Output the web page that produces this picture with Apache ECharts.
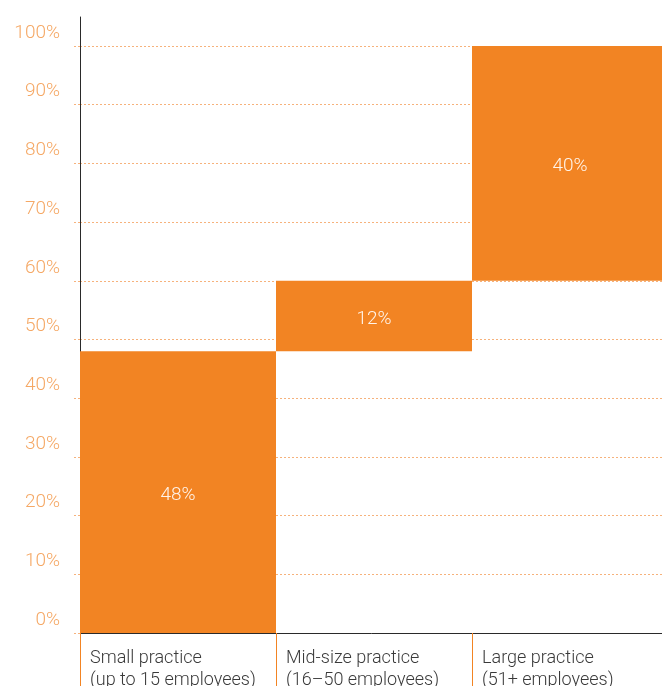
<!DOCTYPE html>
<html>
<head>
<meta charset="utf-8">
<style>
  html, body { margin: 0; padding: 0; background: #ffffff; }
  #chart { width: 662px; height: 686px; }
</style>
<script src="https://cdn.jsdelivr.net/npm/echarts@6/dist/echarts.min.js"></script>
</head>
<body>
<div id="chart"></div>
<script>
// Practice size categories (two-line labels)
var categories = [
  'Small practice\n(up to 15 employees)',
  'Mid-size practice\n(16\u201350 employees)',
  'Large practice\n(51+ employees)'
];
// Share of each practice size, in percent
var shares = [48, 12, 40];
// Y axis range and step, in percent
var yMin = 0;
var yMax = 100;
var yStep = 10;

// Running offsets so each block starts where the previous one ends
var offsets = [];
var running = 0;
for (var i = 0; i < shares.length; i++) {
  offsets.push(running);
  running += shares[i];
}

var ORANGE = '#f28423';
var GRID_DOT = '#f6b27c';
var LABEL_ORANGE = '#f5a865';
var FONT = 'Roboto, "Noto Sans", sans-serif';

var chart = echarts.init(document.getElementById('chart'), null, { renderer: 'canvas' });

function catLabel(value) {
  var parts = value.split('\n');
  return parts.map(function (p) { return '{t|' + p + '}'; }).join('\n');
}

chart.setOption({
  animation: false,
  backgroundColor: '#ffffff',
  grid: [
    { left: 80, width: 588, top: 46, bottom: 53, containLabel: false, outerBoundsMode: 'none' },
    // taller frame used only for the vertical axis line above 100%
    { left: 80, width: 588, top: 17, bottom: 53, containLabel: false, outerBoundsMode: 'none' }
  ],
  xAxis: [
    {
      type: 'category',
      gridIndex: 0,
      data: categories,
      boundaryGap: true,
      axisLine: { show: true, lineStyle: { color: '#2a2a2a', width: 1 } },
      axisTick: {
        show: true,
        inside: false,
        length: 60,
        lineStyle: { color: ORANGE, width: 1 }
      },
      axisLabel: {
        margin: 14,
        interval: 0,
        formatter: catLabel,
        rich: {
          t: {
            width: 176,
            align: 'left',
            fontFamily: FONT,
            fontWeight: 300,
            fontSize: 18,
            lineHeight: 22,
            color: '#3a3a3a'
          }
        }
      },
      splitLine: { show: false }
    },
    {
      type: 'category',
      gridIndex: 1,
      data: categories,
      show: false
    }
  ],
  yAxis: [
    {
      type: 'value',
      gridIndex: 0,
      min: yMin,
      max: yMax,
      interval: yStep,
      axisLine: { show: false },
      axisTick: {
        show: true,
        length: 6,
        lineStyle: { color: GRID_DOT, type: [2, 2], width: 1 }
      },
      axisLabel: {
        formatter: '{value}%',
        margin: 20,
        color: LABEL_ORANGE,
        fontFamily: FONT,
        fontWeight: 300,
        fontSize: 19,
        lineHeight: 20,
        verticalAlign: 'bottom',
        padding: [0, 0, 3, 0]
      },
      splitLine: {
        show: true,
        lineStyle: { color: GRID_DOT, type: [2, 2], width: 1 }
      }
    },
    {
      type: 'value',
      gridIndex: 1,
      min: 0,
      max: 1,
      axisLine: { show: true, onZero: false, lineStyle: { color: '#2a2a2a', width: 1 } },
      axisTick: { show: false },
      axisLabel: { show: false },
      splitLine: { show: false }
    }
  ],
  series: [
    {
      name: 'offset',
      type: 'bar',
      xAxisIndex: 0,
      yAxisIndex: 0,
      stack: 'total',
      data: offsets,
      barCategoryGap: '0%',
      itemStyle: { color: 'rgba(0,0,0,0)' },
      emphasis: { disabled: true },
      silent: true,
      z: 3
    },
    {
      name: 'share',
      type: 'bar',
      xAxisIndex: 0,
      yAxisIndex: 0,
      stack: 'total',
      data: shares,
      barCategoryGap: '0%',
      itemStyle: { color: ORANGE },
      label: {
        show: true,
        position: 'inside',
        offset: [0, 3],
        formatter: '{c}%',
        color: '#fff4ea',
        fontFamily: FONT,
        fontWeight: 300,
        fontSize: 19
      },
      z: 3
    }
  ]
});
</script>
</body>
</html>
